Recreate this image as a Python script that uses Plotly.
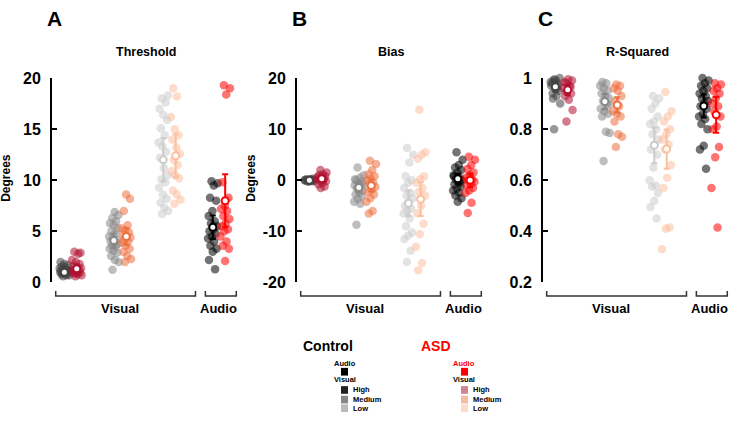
import plotly.graph_objects as go

W, H = 739, 422

# ---------------- data ----------------
group_names = ["ctrl_high", "asd_high", "ctrl_med", "asd_med", "ctrl_low", "asd_low", "ctrl_audio", "asd_audio"]

# Threshold (degrees)
thr_ctrl_high = [0.6, 0.7, 0.8, 0.8, 0.9, 0.9, 1.0, 1.0, 1.0, 1.1, 1.1, 1.2, 1.2, 1.3, 1.4, 1.5, 1.6, 1.7, 1.8, 2.0, 0.7, 0.9, 1.1, 1.3]
thr_asd_high = [0.6, 0.7, 0.8, 0.9, 1.0, 1.0, 1.1, 1.2, 1.3, 1.4, 1.5, 1.6, 1.8, 2.0, 2.2, 2.8, 3.0, 2.9, 0.9, 1.2]
thr_ctrl_med = [1.25, 2.0, 2.2, 2.6, 2.9, 3.1, 3.3, 3.5, 3.6, 3.8, 3.9, 4.0, 4.2, 4.3, 4.5, 4.8, 5.0, 5.3, 5.6, 5.8, 6.0, 6.3, 6.6, 6.9]
thr_asd_med = [2.0, 2.3, 2.6, 3.0, 3.3, 3.6, 3.9, 4.0, 4.2, 4.4, 4.5, 4.7, 4.9, 5.1, 5.3, 5.6, 7.0, 8.2, 8.6]
thr_ctrl_low = [6.7, 7.0, 7.3, 7.8, 8.2, 8.6, 9.3, 9.8, 10.1, 10.5, 11.2, 12.2, 12.8, 13.3, 13.7, 14.4, 15.1, 15.9, 16.4, 17.0, 17.6, 18.0, 18.3]
thr_asd_low = [7.7, 8.1, 8.6, 9.0, 10.2, 10.5, 10.9, 11.5, 12.0, 12.6, 13.2, 14.0, 14.4, 15.0, 16.2, 18.2, 19.0]
thr_ctrl_audio = [9.9, 9.7, 9.5, 8.3, 8.0, 7.0, 6.5, 6.0, 5.8, 5.5, 5.2, 5.0, 4.8, 4.5, 4.3, 4.0, 3.6, 3.3, 3.0, 2.2, 1.3]
thr_asd_audio = [19.3, 19.0, 18.4, 9.8, 8.3, 7.5, 7.2, 7.0, 6.5, 6.2, 5.8, 5.5, 5.2, 5.0, 4.5, 4.0, 3.6, 3.3, 2.1]
thr_mean = [1.0, 1.35, 4.1, 4.5, 12.0, 12.4, 5.4, 8.0]
thr_err = [0.3, 0.4, 0.7, 0.8, 2.1, 2.1, 1.15, 2.6]

# Bias (degrees)
bias_ctrl_high = [-0.3, -0.2, -0.2, -0.1, -0.1, 0.0, 0.0, 0.0, 0.1, 0.1, 0.2, 0.2, 0.3, -0.1, 0.0, 0.1]
bias_asd_high = [2.0, 1.5, 1.2, 1.0, 0.8, 0.5, 0.3, 0.2, 0.0, -0.2, -0.5, -0.8, -1.2, -1.5, 0.6, 0.1]
bias_ctrl_med = [2.5, 1.0, 0.5, 0.0, -0.3, -0.6, -1.0, -1.3, -1.6, -2.0, -2.4, -2.8, -3.2, -3.6, -4.2, -4.6, -8.7, -0.8, -1.8, 0.2]
bias_asd_med = [3.8, 3.2, 2.0, 1.2, 0.8, 0.3, 0.0, -0.5, -0.9, -1.3, -1.8, -2.3, -2.8, -3.5, -4.2, -6.0, -6.5]
bias_ctrl_low = [6.3, 5.0, 3.5, 0.8, 0.0, -0.5, -1.5, -2.5, -3.0, -3.5, -4.5, -5.0, -5.5, -6.0, -6.5, -7.5, -9.0, -10.2, -10.8, -11.5, -13.8, -16.0]
bias_asd_low = [13.8, 5.5, 5.0, 4.2, 0.8, 0.2, -0.5, -1.5, -2.3, -3.0, -5.0, -6.5, -8.5, -10.5, -13.0, -16.2, -17.6]
bias_ctrl_audio = [5.5, 4.0, 3.0, 2.5, 2.0, 1.5, 1.0, 0.5, 0.2, 0.0, -0.3, -0.8, -1.2, -1.6, -2.0, -2.5, -3.0, -3.5, -4.2, 0.8, -0.5]
bias_asd_audio = [4.6, 4.0, 3.0, 2.2, 1.5, 1.0, 0.5, 0.2, 0.0, -0.3, -0.7, -1.0, -1.5, -2.0, -2.5, -4.4, -6.4]
bias_mean = [0.0, 0.3, -1.4, -1.0, -4.5, -3.7, 0.3, 0.0]
bias_err = [0.2, 0.5, 1.0, 1.2, 2.5, 3.3, 1.0, 1.3]

# R-Squared
r2_ctrl_high = [0.80, 0.90, 0.93, 0.94, 0.95, 0.96, 0.97, 0.98, 0.99, 1.0, 0.99, 0.98, 0.97, 0.995, 0.985, 0.96, 0.92]
r2_asd_high = [0.83, 0.875, 0.915, 0.93, 0.94, 0.95, 0.96, 0.97, 0.98, 0.99, 0.995, 0.985, 0.965, 0.945]
r2_ctrl_med = [0.675, 0.785, 0.79, 0.85, 0.86, 0.87, 0.88, 0.90, 0.91, 0.92, 0.93, 0.94, 0.95, 0.96, 0.97, 0.98, 0.985, 0.895]
r2_asd_med = [0.73, 0.77, 0.78, 0.83, 0.85, 0.86, 0.87, 0.89, 0.91, 0.93, 0.95, 0.96, 0.97, 0.975]
r2_ctrl_low = [0.93, 0.92, 0.90, 0.88, 0.85, 0.83, 0.82, 0.80, 0.78, 0.76, 0.74, 0.72, 0.70, 0.65, 0.60, 0.58, 0.575, 0.55, 0.52, 0.495, 0.45]
r2_asd_low = [0.945, 0.87, 0.85, 0.83, 0.80, 0.78, 0.76, 0.74, 0.72, 0.66, 0.61, 0.57, 0.415, 0.41, 0.33]
r2_ctrl_audio = [1.0, 0.99, 0.98, 0.97, 0.96, 0.95, 0.94, 0.93, 0.92, 0.91, 0.90, 0.89, 0.88, 0.86, 0.85, 0.84, 0.82, 0.80, 0.735, 0.72, 0.645]
r2_asd_audio = [0.98, 0.975, 0.96, 0.95, 0.94, 0.92, 0.90, 0.89, 0.87, 0.85, 0.81, 0.80, 0.73, 0.69, 0.57, 0.415]
r2_mean = [0.966, 0.954, 0.908, 0.895, 0.737, 0.722, 0.891, 0.856]
r2_err = [0.02, 0.02, 0.03, 0.03, 0.07, 0.077, 0.045, 0.07]

panel_titles = ["Threshold", "Bias", "R-Squared"]
panel_letters = ["A", "B", "C"]
y_ticks = [[0, 5, 10, 15, 20], [-20, -10, 0, 10, 20], [0.2, 0.4, 0.6, 0.8, 1.0]]
y_ticktext = [["0", "5", "10", "15", "20"], ["-20", "-10", "0", "10", "20"], ["0.2", "0.4", "0.6", "0.8", "1"]]
y_ranges = [[0, 20], [-20, 20], [0.2, 1.0]]
y_titles = ["Degrees", "Degrees", ""]
category_labels = ["Visual", "Audio"]

legend_levels = ["High", "Medium", "Low"]
legend_ctrl_colors = ["#222222", "#888888", "#bbbbbb"]
legend_asd_colors = ["#d3838f", "#f6bba3", "#fadccc"]

# ---------------- styling ----------------
colors = ["#444444", "#b01030", "#888888", "#ee7040", "#cccccc", "#fbc0a0", "#000000", "#ff0000"]
positions = [0, 1, 4, 5, 8, 9, 12, 13]
FONT = "Liberation Sans, Arial, Helvetica, sans-serif"

panels = [
    [thr_ctrl_high, thr_asd_high, thr_ctrl_med, thr_asd_med, thr_ctrl_low, thr_asd_low, thr_ctrl_audio, thr_asd_audio],
    [bias_ctrl_high, bias_asd_high, bias_ctrl_med, bias_asd_med, bias_ctrl_low, bias_asd_low, bias_ctrl_audio, bias_asd_audio],
    [r2_ctrl_high, r2_asd_high, r2_ctrl_med, r2_asd_med, r2_ctrl_low, r2_asd_low, r2_ctrl_audio, r2_asd_audio],
]
means = [thr_mean, bias_mean, r2_mean]
errs = [thr_err, bias_err, r2_err]

# panel domains in pixels (x: axis line to right end)
px_domains = [(52, 240), (297, 485), (543, 731)]
y_top_px, y_bot_px = 73, 286
XR = [-1, 14.2]


def px_x(p):
    return p / W


def px_y(p):
    return (H - p) / H


def jitter(n):
    return [(((i * 0.6180339887) + 0.37) % 1.0 - 0.5) * 0.8 for i in range(n)]


fig = go.Figure()
annotations = []
shapes = []

for k in range(3):
    xa = "x" if k == 0 else f"x{k+1}"
    ya = "y" if k == 0 else f"y{k+1}"
    for g in range(8):
        vals = panels[k][g]
        jit = jitter(len(vals))
        fig.add_trace(go.Scatter(
            x=[positions[g] + j for j in jit], y=vals, mode="markers",
            marker=dict(size=8.5, color=colors[g], opacity=0.55, line=dict(width=0)),
            cliponaxis=False, xaxis=xa, yaxis=ya, hoverinfo="y", showlegend=False))
    for g in range(8):
        fig.add_trace(go.Scatter(
            x=[positions[g]], y=[means[k][g]], mode="markers",
            marker=dict(size=7, color="white", line=dict(color=colors[g], width=2)),
            error_y=dict(type="data", array=[errs[k][g]], color=colors[g], thickness=2, width=3),
            cliponaxis=False, xaxis=xa, yaxis=ya, hoverinfo="y", showlegend=False))

    x0p, x1p = px_domains[k]
    dom = [px_x(x0p), px_x(x1p)]
    axkey = "xaxis" if k == 0 else f"xaxis{k+1}"
    aykey = "yaxis" if k == 0 else f"yaxis{k+1}"
    fig.layout[axkey] = dict(domain=dom, range=XR, visible=False, fixedrange=True, anchor=ya)
    fig.layout[aykey] = dict(
        domain=[px_y(y_bot_px), px_y(y_top_px)], range=y_ranges[k], anchor=xa,
        showline=True, linewidth=2, linecolor="black", ticks="inside", ticklen=5,
        tickwidth=2, tickcolor="black", showgrid=False, zeroline=False,
        tickvals=y_ticks[k], ticktext=y_ticktext[k], ticklabelstandoff=6,
        tickfont=dict(family=FONT, size=16, color="black", weight="bold"), fixedrange=True)

    # brackets
    yb, yu = px_y(300), px_y(295)
    for (a, b) in [(-0.7, 10.6), (11.4, 13.9)]:
        shapes.append(dict(type="path", xref=xa, yref="paper",
                           path=f"M {a},{yu} L {a},{yb} L {b},{yb} L {b},{yu}",
                           line=dict(color="#333333", width=1.5)))
    for lab, xc in zip(category_labels, [4.5, 12.5]):
        annotations.append(dict(text=f"<b>{lab}</b>", x=xc, y=px_y(313), xref=xa, yref="paper",
                                showarrow=False, font=dict(family=FONT, size=13, color="black"),
                                xanchor="center", yanchor="middle"))
    # titles
    annotations.append(dict(text=f"<b>{panel_titles[k]}</b>", x=(dom[0] + dom[1]) / 2, y=px_y(46),
                            xref="paper", yref="paper", showarrow=False,
                            font=dict(family=FONT, size=12.5, color="black"), xanchor="center", yanchor="middle"))
    annotations.append(dict(text=f"<b>{panel_letters[k]}</b>", x=px_x(x0p + 2), y=px_y(11),
                            xref="paper", yref="paper", showarrow=False,
                            font=dict(family=FONT, size=21, color="black"), xanchor="center", yanchor="middle"))
    if y_titles[k]:
        annotations.append(dict(text=f"<b>{y_titles[k]}</b>", x=px_x(x0p - 46), y=px_y(177),
                                xref="paper", yref="paper", showarrow=False, textangle=-90,
                                font=dict(family=FONT, size=12, color="black"), xanchor="center", yanchor="middle"))

# ---------------- custom legend ----------------
def add_text(txt, xp, yp, size, color="black", anchor="center"):
    annotations.append(dict(text=f"<b>{txt}</b>", x=px_x(xp), y=px_y(yp), xref="paper", yref="paper",
                            showarrow=False, font=dict(family=FONT, size=size, color=color),
                            xanchor=anchor, yanchor="middle"))


def add_square(x0, y0, x1, y1, color):
    shapes.append(dict(type="rect", xref="paper", yref="paper", x0=px_x(x0), x1=px_x(x1),
                       y0=px_y(y1), y1=px_y(y0), fillcolor=color, line=dict(width=0)))


for head, head_color, cx, audio_col, lev_cols in [
        ("Control", "black", 328, "#000000", legend_ctrl_colors),
        ("ASD", "#ff0000", 435.5, "#ff0000", legend_asd_colors)]:
    sx = 341 if head == "Control" else 461
    add_text(head, cx, 352, 14, head_color)
    add_text("Audio", sx + 3.5, 370, 7.5, head_color if head == "ASD" else "black")
    add_square(sx, 375, sx + 7, 383, audio_col)
    add_text("Visual", sx + 3.5, 387, 7.5)
    for i, (lev, col) in enumerate(zip(legend_levels, lev_cols)):
        y0 = [394, 404, 413][i]
        add_square(sx, y0, sx + 7, y0 + 8, col)
        add_text(lev, sx + 10, y0 + 4, 7.5, anchor="left")

fig.update_layout(width=W, height=H, margin=dict(l=0, r=0, t=0, b=0),
                  paper_bgcolor="white", plot_bgcolor="white", showlegend=False,
                  annotations=annotations, shapes=shapes,
                  font=dict(family=FONT))

fig.write_html("out.html", config={"displayModeBar": False},
               post_script="document.body.style.margin='0px';")
